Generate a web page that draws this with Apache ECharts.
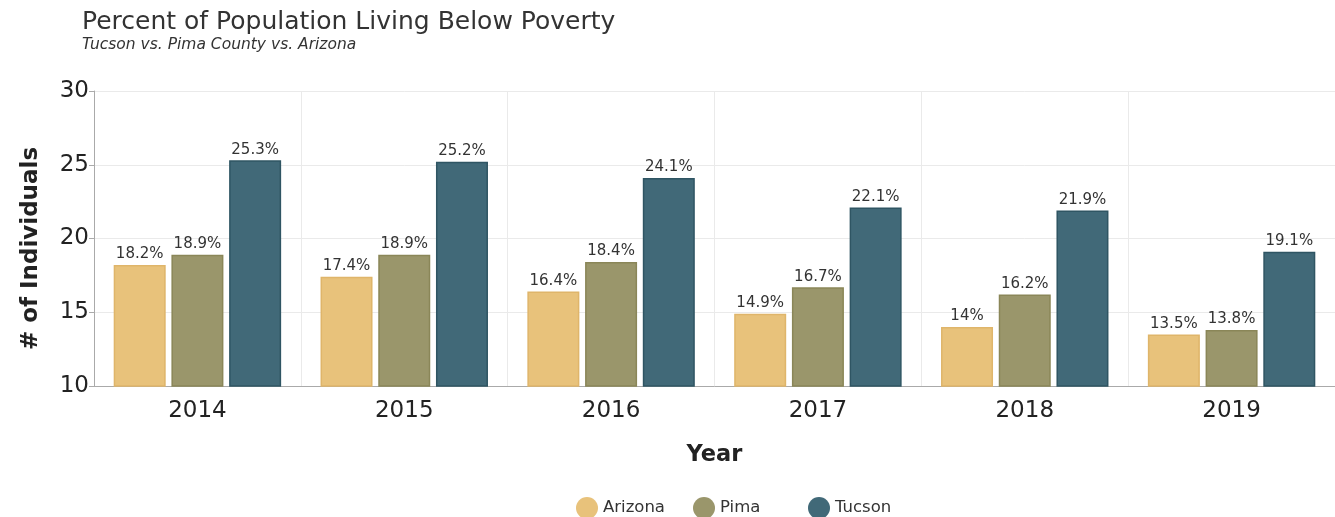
<!DOCTYPE html>
<html>
<head>
<meta charset="utf-8">
<script src="https://cdn.jsdelivr.net/npm/echarts@6/dist/echarts.min.js"></script>
<style>
html,body{margin:0;padding:0;background:#fff;}
#chart{width:1335px;height:517px;}
</style>
</head>
<body>
<div id="chart"></div>
<script>
const years = ['2014','2015','2016','2017','2018','2019'];
const arizona = [18.2, 17.4, 16.4, 14.9, 14.0, 13.5];
const pima = [18.9, 18.9, 18.4, 16.7, 16.2, 13.8];
const tucson = [25.3, 25.2, 24.1, 22.1, 21.9, 19.1];
const seriesNames = ['Arizona', 'Pima', 'Tucson'];

const FONT = '"DejaVu Sans", sans-serif';
const chart = echarts.init(document.getElementById('chart'));

function bar(name, data, color, border) {
  return {
    name: name,
    type: 'bar',
    data: data,
    barWidth: 52,
    barGap: '11%',
    itemStyle: { color: color, borderColor: border, borderWidth: 1.5 },
    label: {
      show: true, position: 'top', distance: 3,
      formatter: p => p.value + '%',
      fontFamily: FONT, fontSize: 15, color: '#333'
    }
  };
}

const legendLefts = [571, 688, 803];
const legends = seriesNames.map((n, i) => ({
  top: 492, left: legendLefts[i],
  icon: 'circle', itemWidth: 22, itemHeight: 22,
  itemStyle: { borderWidth: 0 },
  textStyle: { fontFamily: FONT, fontSize: 16.5, color: '#333' },
  data: [n]
}));

chart.setOption({
  animation: false,
  textStyle: { fontFamily: FONT },
  title: {
    text: 'Percent of Population Living Below Poverty',
    subtext: 'Tucson vs. Pima County vs. Arizona',
    left: 77, top: 5,
    itemGap: 2,
    textStyle: { fontFamily: FONT, fontSize: 25, fontWeight: 'normal', color: '#333' },
    subtextStyle: { fontFamily: FONT, fontSize: 15.5, fontStyle: 'italic', color: '#333' }
  },
  legend: legends,
  grid: { left: 94, right: -4, top: 91, bottom: 131 },
  xAxis: {
    type: 'category',
    data: years,
    name: 'Year',
    nameLocation: 'middle',
    nameGap: 58,
    nameTextStyle: { fontFamily: FONT, fontSize: 22.5, fontWeight: 'bold', color: '#222' },
    axisLine: { lineStyle: { color: '#aaa' } },
    axisTick: { alignWithLabel: true, lineStyle: { color: '#ccc' } },
    axisLabel: { fontFamily: FONT, fontSize: 23, color: '#222', margin: 14 },
    splitLine: { show: true, lineStyle: { color: '#eaeaea' } }
  },
  yAxis: {
    type: 'value',
    min: 10, max: 30, interval: 5,
    name: '# of Individuals',
    nameLocation: 'middle',
    nameGap: 51,
    nameRotate: 90,
    nameTextStyle: { fontFamily: FONT, fontSize: 23, fontWeight: 'bold', color: '#222', padding: [0, 20, 0, 0] },
    axisLine: { show: true, lineStyle: { color: '#aaa' } },
    axisTick: { show: true, length: 5, lineStyle: { color: '#aaa' } },
    axisLabel: { fontFamily: FONT, fontSize: 23, color: '#222', margin: 5 },
    splitLine: { lineStyle: { color: '#eaeaea' } }
  },
  series: [
    bar(seriesNames[0], arizona, '#E8C27B', '#dfb56a'),
    bar(seriesNames[1], pima, '#9A966B', '#8a8658'),
    bar(seriesNames[2], tucson, '#416978', '#2f5563')
  ]
});
</script>
</body>
</html>
